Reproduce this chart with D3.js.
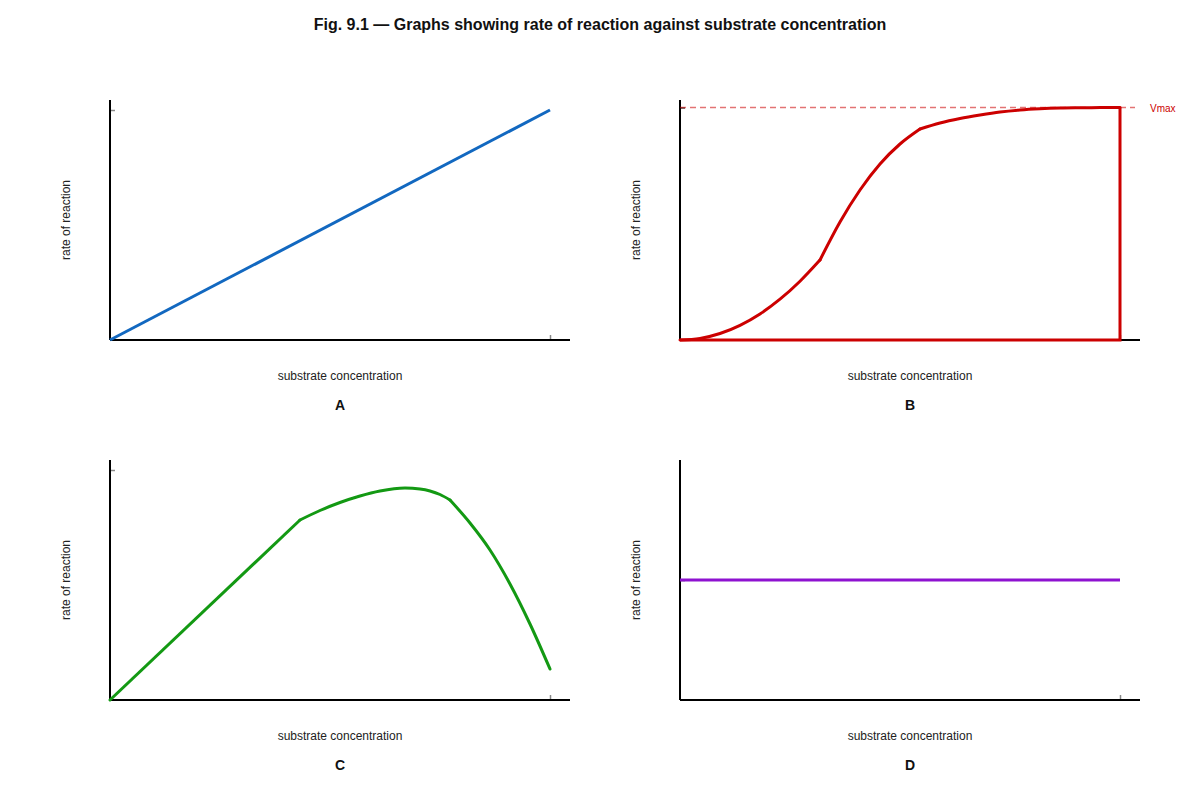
<!DOCTYPE html>
<html>
<head>
<meta charset="utf-8">
<script src="https://cdn.jsdelivr.net/npm/d3@7"></script>
<style>
  html, body { margin: 0; padding: 0; background: #fff; }
  svg { display: block; font-family: "Liberation Sans", Arial, sans-serif; }
</style>
</head>
<body>
<svg id="chart" width="1200" height="800"></svg>
<script>
// ---- Data (x: substrate concentration, y: rate of reaction, arbitrary units) ----
const titleText = "Fig. 9.1 \u2014 Graphs showing rate of reaction against substrate concentration";
const panelLetters = ["A", "B", "C", "D"];
const xLabel = "substrate concentration";
const yLabel = "rate of reaction";

// A: straight proportional line
const curveA = [[0, 0], [22, 23]];
// B: sigmoid, three smooth segments (kinks between them), levelling at Vmax
const curveB1 = [[0, 0], [1, 0.16], [2, 0.65], [3, 1.47], [4, 2.61], [5, 4.08], [6, 5.88], [7, 8.0]];
const curveB2 = [[7, 8.0], [8, 11.8], [9, 15.0], [10, 17.6], [11, 19.6], [12, 21.1]];
const curveB3 = [[12, 21.1], [13, 21.7], [14, 22.15], [15, 22.5], [16, 22.8], [17, 23.0],
                 [18, 23.12], [19, 23.19], [20, 23.22], [21, 23.24], [22, 23.25]];
const vmaxValue = 23.25;
// C: rise, optimum, fall
const curveC1 = [[0, 0], [9.5, 18.0]];
const curveC2 = [[9.5, 18.0], [10.5, 18.95], [11.5, 19.75], [12.5, 20.4], [13.5, 20.9],
                 [14.75, 21.2], [15.5, 21.1], [16, 20.9], [16.5, 20.55], [17, 20.0]];
const curveC3 = [[17, 20.0], [18, 17.7], [19, 15.0], [20, 11.6], [21, 7.6], [22, 3.1]];
// D: constant rate
const curveD = [[0, 12], [22, 12]];

const xTicks = [[22], [22], [22], [22]];
const yTicks = [[23], [vmaxValue], [23], [12]];
const lineColors = ["#1268c0", "#cc0000", "#139913", "#8e12d0"];

// ---- Layout ----
const svg = d3.select("#chart");
const panelW = 460, panelH = 240;
const origins = [[110, 100], [680, 100], [110, 460], [680, 460]];
const panelSegments = [
  [curveA],
  [curveB1, curveB2, curveB3],
  [curveC1, curveC2, curveC3],
  [curveD]
];

const x = d3.scaleLinear().domain([0, 23]).range([0, panelW]);
const y = d3.scaleLinear().domain([0, 24]).range([panelH, 0]);

svg.append("text")
  .attr("x", 600).attr("y", 30)
  .attr("text-anchor", "middle")
  .attr("font-size", 16).attr("font-weight", "bold")
  .attr("fill", "#111")
  .text(titleText);

const smooth = d3.line().x(d => x(d[0])).y(d => y(d[1])).curve(d3.curveMonotoneX);
const straight = d3.line().x(d => x(d[0])).y(d => y(d[1]));

panelSegments.forEach((segs, i) => {
  const [ox, oy] = origins[i];
  const g = svg.append("g").attr("transform", `translate(${ox},${oy})`);

  // ticks (no labels, pointing inward)
  g.append("g")
    .attr("transform", `translate(0,${panelH})`)
    .call(d3.axisBottom(x).tickValues(xTicks[i]).tickSize(-5).tickFormat(""))
    .call(s => s.select(".domain").remove())
    .call(s => s.selectAll(".tick line").attr("stroke", "#888").attr("stroke-width", 1.5));
  g.append("g")
    .call(d3.axisLeft(y).tickValues(yTicks[i]).tickSize(-5).tickFormat(""))
    .call(s => s.select(".domain").remove())
    .call(s => s.selectAll(".tick line").attr("stroke", i === 1 || i === 3 ? "#444" : "#888").attr("stroke-width", 1.5));

  // axis lines
  g.append("line").attr("x1", 0).attr("x2", 0).attr("y1", 0).attr("y2", panelH)
    .attr("stroke", "#000").attr("stroke-width", 2);
  g.append("line").attr("x1", 0).attr("x2", panelW).attr("y1", panelH).attr("y2", panelH)
    .attr("stroke", "#000").attr("stroke-width", 2);

  if (i === 1) {
    // Vmax dashed reference line
    g.append("line")
      .attr("x1", 0).attr("x2", panelW - 5)
      .attr("y1", y(vmaxValue)).attr("y2", y(vmaxValue))
      .attr("stroke", "#cc0000").attr("stroke-opacity", 0.55)
      .attr("stroke-width", 1.5).attr("stroke-dasharray", "6,4");
    g.append("text")
      .attr("x", panelW + 10).attr("y", y(vmaxValue) + 4)
      .attr("font-size", 10).attr("fill", "#cc0000")
      .text("Vmax");
    // closing outline: down from the last point to the baseline, back to origin
    const last = curveB3[curveB3.length - 1];
    const first = curveB1[0];
    g.append("path").datum([last, [last[0], 0], [first[0], 0]])
      .attr("d", straight)
      .attr("fill", "none")
      .attr("stroke", lineColors[i]).attr("stroke-width", 3)
      .attr("stroke-linejoin", "miter");
  }

  segs.forEach((seg, k) => {
    g.append("path").datum(seg)
      .attr("d", seg.length > 2 ? smooth : straight)
      .attr("fill", "none")
      .attr("stroke", lineColors[i]).attr("stroke-width", 3)
      .attr("stroke-linejoin", "round")
      .attr("stroke-linecap", segs.length > 1 ? "round" : "butt");
  });

  // labels
  g.append("text")
    .attr("x", panelW / 2).attr("y", panelH + 40)
    .attr("text-anchor", "middle").attr("font-size", 12).attr("fill", "#222")
    .text(xLabel);
  g.append("text")
    .attr("x", panelW / 2).attr("y", panelH + 70)
    .attr("text-anchor", "middle").attr("font-size", 14).attr("font-weight", "bold").attr("fill", "#111")
    .text(panelLetters[i]);
  g.append("text")
    .attr("transform", `translate(-40,${panelH / 2}) rotate(-90)`)
    .attr("text-anchor", "middle").attr("font-size", 12).attr("fill", "#222")
    .text(yLabel);
});
</script>
</body>
</html>
